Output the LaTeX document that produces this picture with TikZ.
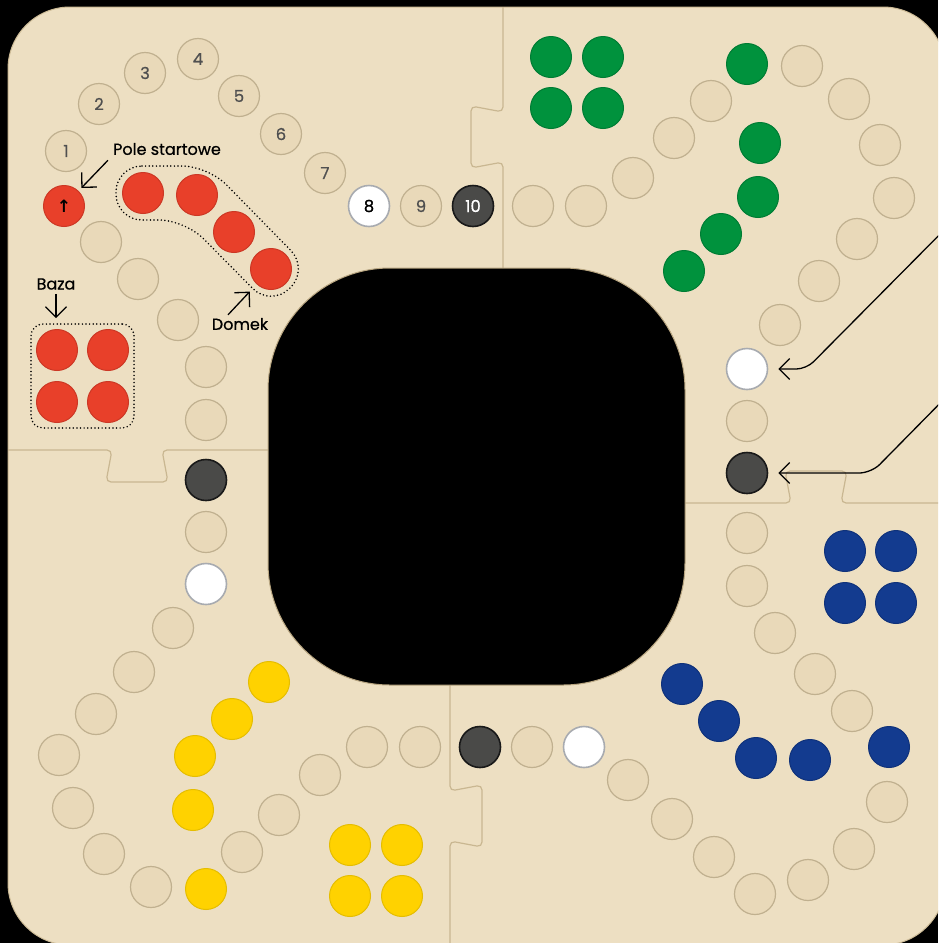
\documentclass[tikz,border=0pt]{standalone}
\usepackage{fontspec}
\setmainfont{Poppins}
\newfontfamily\notefont{Poppins}[FakeBold=0.6]
\newfontfamily\symfont{DejaVu Sans}
\usetikzlibrary{arrows.meta,fit}

\definecolor{boardSand}{HTML}{EDDFC2}
\definecolor{boardEdge}{HTML}{CDBB96}
\definecolor{seamTan}{HTML}{C9B791}
\definecolor{centreRim}{HTML}{B9A681}
\definecolor{holeFill}{HTML}{E9D9B9}
\definecolor{holeEdge}{HTML}{C0B08F}
\definecolor{numGray}{HTML}{505050}
\definecolor{pieceRed}{HTML}{E8402A}
\definecolor{pieceGreen}{HTML}{00923D}
\definecolor{pieceBlue}{HTML}{133B8F}
\definecolor{pieceYellow}{HTML}{FFD200}
\definecolor{pieceDark}{HTML}{4A4A48}
\definecolor{pieceRim}{HTML}{A8ABB0}

\begin{document}
\begin{tikzpicture}[x=1pt,y=-1pt,
    hole/.style={circle,minimum size=41pt,inner sep=0pt,fill=holeFill,draw=holeEdge,line width=1.2pt,
      text=numGray,font=\notefont\fontsize{16.5}{16.5}\selectfont},
    piece/.style={circle,minimum size=41pt,inner sep=0pt,line width=1pt},
    redpiece/.style={piece,fill=pieceRed,draw=pieceRed!88!black},
    greenpiece/.style={piece,fill=pieceGreen,draw=pieceGreen!85!black},
    bluepiece/.style={piece,fill=pieceBlue,draw=pieceBlue!85!black},
    yellowpiece/.style={piece,fill=pieceYellow,draw=pieceYellow!90!black},
    whitepiece/.style={piece,fill=white,draw=pieceRim,line width=1.6pt,text=black,font=\notefont\fontsize{16.5}{16.5}\selectfont},
    darkpiece/.style={piece,fill=pieceDark,draw=black!90,line width=1.6pt,text=white,font=\notefont\fontsize{16.5}{16.5}\selectfont},
    seam/.style={draw=seamTan,line width=1.2pt,rounded corners=5pt},
    dotline/.style={line width=1.7pt,dash pattern=on 0pt off 3.6pt,line cap=round},
    note/.style={font=\notefont\fontsize{16}{16}\selectfont,inner sep=3pt},
    pointer/.style={-{Straight Barb[length=10.5pt,width=21pt]},line width=1.3pt}]
  \path[use as bounding box] (0,0) rectangle (938,943);
  \clip (0,0) rectangle (938,943);
  \fill[black] (0,0) rectangle (938,943);
  % board and puzzle seams
  \filldraw[fill=boardSand,draw=boardEdge,line width=1pt,rounded corners=62pt] (8,7) rectangle (945,945);
  \draw[seam] (503,7) -- (503,112) -- (471,106) -- (471,168) -- (503,162) -- (503,268);
  \draw[seam] (945,503) -- (841,503) -- (847,471) -- (785,471) -- (791,503) -- (685,503);
  \draw[seam] (450,945) -- (450,841) -- (482,847) -- (482,785) -- (450,791) -- (450,685);
  \draw[seam] (8,450) -- (112,450) -- (106,482) -- (168,482) -- (162,450) -- (268,450);
  \filldraw[fill=black,draw=centreRim,line width=1pt,rounded corners=122pt] (268,268) rectangle (685,685);

  % red corner
  \foreach \n/\xx/\yy in {1/66/151,2/99/104,3/145/73,4/198/59,5/239/96,6/281/134,7/325/173,9/421/206}
    \node[hole] (r\n) at (\xx,\yy) {\n};
  \node[whitepiece] (r8) at (369,206) {8};
  \node[darkpiece] (r10) at (473,206) {10};
  \foreach \n/\xx/\yy in {1/101/242,2/138/279,3/178/320,4/206/367,5/206/420}
    \node[hole] (rL\n) at (\xx,\yy) {};
  \foreach \n/\xx/\yy in {1/143/193,2/197/195,3/234/232,4/271/269}
    \node[redpiece] (rD\n) at (\xx,\yy) {};
  \foreach \n/\xx/\yy in {1/57/350,2/108/350,3/57/402,4/108/402}
    \node[redpiece] (rB\n) at (\xx,\yy) {};
  \node[redpiece,font=\symfont\bfseries\fontsize{17}{17}\selectfont] (rS) at (64,206) {↑};

  % green corner
  \foreach \n/\xx/\yy in {1/802/66,2/849/99,3/880/145,4/894/198,5/857/239,6/819/281,7/780/325,9/747/421}
    \node[hole] (g\n) at (\xx,\yy) {};
  \node[whitepiece] (g8) at (747,369) {};
  \node[darkpiece] (g10) at (747,473) {};
  \foreach \n/\xx/\yy in {1/711/101,2/674/138,3/633/178,4/586/206,5/533/206}
    \node[hole] (gL\n) at (\xx,\yy) {};
  \foreach \n/\xx/\yy in {1/760/143,2/758/197,3/721/234,4/684/271}
    \node[greenpiece] (gD\n) at (\xx,\yy) {};
  \foreach \n/\xx/\yy in {1/551/57,2/603/57,3/551/108,4/603/108}
    \node[greenpiece] (gB\n) at (\xx,\yy) {};
  \node[greenpiece] (gS) at (747,64) {};

  % blue corner
  \foreach \n/\xx/\yy in {1/887/802,2/854/849,3/808/880,4/755/894,5/714/857,6/672/819,7/628/780,9/532/747}
    \node[hole] (b\n) at (\xx,\yy) {};
  \node[whitepiece] (b8) at (584,747) {};
  \node[darkpiece] (b10) at (480,747) {};
  \foreach \n/\xx/\yy in {1/852/711,2/815/674,3/775/633,4/747/586,5/747/533}
    \node[hole] (bL\n) at (\xx,\yy) {};
  \foreach \n/\xx/\yy in {1/810/760,2/756/758,3/719/721,4/682/684}
    \node[bluepiece] (bD\n) at (\xx,\yy) {};
  \foreach \n/\xx/\yy in {1/845/551,2/896/551,3/845/603,4/896/603}
    \node[bluepiece] (bB\n) at (\xx,\yy) {};
  \node[bluepiece] (bS) at (889,747) {};

  % yellow corner
  \foreach \n/\xx/\yy in {1/151/887,2/104/854,3/73/808,4/59/755,5/96/714,6/134/672,7/173/628,9/206/532}
    \node[hole] (y\n) at (\xx,\yy) {};
  \node[whitepiece] (y8) at (206,584) {};
  \node[darkpiece] (y10) at (206,480) {};
  \foreach \n/\xx/\yy in {1/242/852,2/279/815,3/320/775,4/367/747,5/420/747}
    \node[hole] (yL\n) at (\xx,\yy) {};
  \foreach \n/\xx/\yy in {1/193/810,2/195/756,3/232/719,4/269/682}
    \node[yellowpiece] (yD\n) at (\xx,\yy) {};
  \foreach \n/\xx/\yy in {1/350/845,2/402/845,3/350/896,4/402/896}
    \node[yellowpiece] (yB\n) at (\xx,\yy) {};
  \node[yellowpiece] (yS) at (206,889) {};

  % annotations
  \draw[dotline,rounded corners=26pt] (116,166) -- (208,166) -- (309,269) -- (271,307) -- (185,220) -- (116,220) -- cycle;
  \node[draw,dotline,rounded corners=12pt,inner sep=5pt,fit=(rB1)(rB4)] (basebox) {};
  \node[note] (lblstart) at (167,149) {Pole startowe};
  \node[note] (lblbase) at (56,284) {Baza};
  \node[note] (lbldomek) at (240,324) {Domek};
  \draw[pointer,shorten <=3pt,shorten >=4pt] (lblstart.south west) -- (rS);
  \draw[pointer,shorten <=1pt,shorten >=5pt] (lblbase.south) -- (lblbase.south |- basebox.north);
  \draw[pointer,shorten >=10pt] ([xshift=-12pt]lbldomek.north) -- (rD4);
  \coordinate (infoA) at (958,216);
  \coordinate (infoB) at (958,385);
  \draw[pointer,rounded corners=10pt,shorten >=10pt] (infoA) -- ([xshift=38pt]g8.east) -- (g8.east);
  \draw[pointer,rounded corners=12pt,shorten >=10pt] (infoB) -- ([xshift=103pt]g10.east) -- (g10.east);
\end{tikzpicture}
\end{document}
